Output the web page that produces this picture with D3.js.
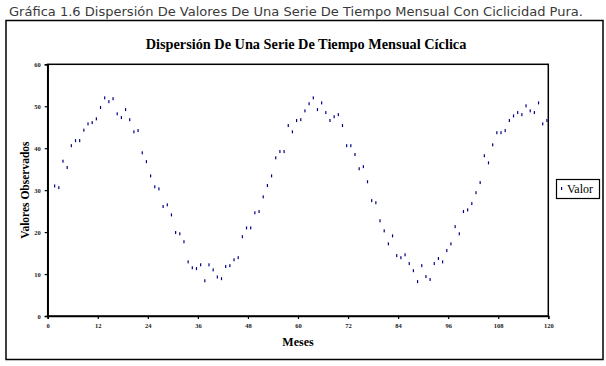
<!DOCTYPE html>
<html><head><meta charset="utf-8">
<script src="https://cdn.jsdelivr.net/npm/d3@7"></script>
<style>body{margin:0;background:#fff;} svg{display:block;}</style>
</head><body>
<svg id="c" width="606" height="366"></svg>
<script>
const caption = "Gráfica 1.6 Dispersión De Valores De Una Serie De Tiempo Mensual Con Ciclicidad Pura.";
const chartTitle = "Dispersión De Una Serie De Tiempo Mensual Cíclica";
const xTitle = "Meses";
const yTitle = "Valores Observados";
const seriesName = "Valor";
const xTicks = [0,12,24,36,48,60,72,84,96,108,120];
const yTicks = [0,10,20,30,40,50,60];
const months = [2,3,4,5,6,7,8,9,10,11,12,13,14,15,16,17,18,19,20,21,22,23,24,25,26,27,28,29,30,31,
32,33,34,35,36,37,38,39,40,41,42,43,44,45,46,47,48,49,50,51,52,53,54,55,56,57,58,59,60,61,
62,63,64,65,66,67,68,69,70,71,72,73,74,75,76,77,78,79,80,81,82,83,84,85,86,87,88,89,90,91,
92,93,94,95,96,97,98,99,100,101,102,103,104,105,106,107,108,109,110,111,112,113,114,115,116,117,118,119,120];
const values = [
31.0, 30.6, 36.9, 35.4, 40.6, 41.8, 41.8, 44.3, 45.8, 46.1,
47.0, 49.7, 52.0, 51.1, 51.8, 48.2, 47.3, 49.2, 46.8, 43.9,
44.2, 38.9, 36.8, 33.4, 30.8, 30.3, 26.1, 26.5, 24.1, 19.9,
19.6, 17.7, 12.9, 11.5, 11.3, 12.2, 8.4, 12.2, 11.0, 9.3,
8.9, 11.8, 12.0, 13.4, 13.9, 18.9, 21.0, 21.0, 24.6, 24.9,
28.4, 31.1, 33.4, 37.7, 39.2, 39.2, 45.4, 43.9, 46.6, 46.8,
48.9, 50.6, 52.0, 49.2, 50.8, 48.5, 46.6, 47.5, 48.0, 45.4,
40.6, 40.6, 38.5, 35.1, 35.6, 32.0, 27.5, 27.0, 22.7, 20.3,
17.2, 19.1, 14.4, 13.9, 14.6, 12.5, 10.8, 8.2, 12.0, 9.4,
8.7, 12.5, 13.7, 12.9, 15.6, 17.2, 21.3, 19.6, 24.9, 25.3,
26.8, 29.4, 31.8, 38.2, 36.5, 40.8, 43.7, 43.7, 44.2, 46.6,
47.7, 48.5, 48.0, 50.1, 48.9, 48.5, 50.8, 45.8, 46.6];

const svg = d3.select("#c");
const serif = "'Liberation Serif','Times New Roman',serif";
const markColor = "#000080";

// caption
svg.append("text").attr("x", 9).attr("y", 16)
  .attr("font-family", "'DejaVu Sans',sans-serif").attr("font-size", 11.5)
  .attr("fill", "#3a3a3a").attr("textLength", 574).attr("lengthAdjust", "spacingAndGlyphs")
  .text(caption);

// outer frame
svg.append("rect").attr("x", 6).attr("y", 20.5).attr("width", 597).attr("height", 339)
  .attr("fill", "none").attr("stroke", "#000").attr("stroke-width", 1.5);

// title
svg.append("text").attr("x", 306).attr("y", 49).attr("text-anchor", "middle")
  .attr("font-family", serif).attr("font-weight", "bold").attr("font-size", 14.3)
  .text(chartTitle);

const x = d3.scaleLinear().domain([0, 120]).range([47.7, 548.3]);
const y = d3.scaleLinear().domain([0, 60]).range([316, 64.3]);

// plot area border (top, right)
svg.append("rect").attr("x", x(0)).attr("y", y(60)).attr("width", x(120) - x(0)).attr("height", y(0) - y(60))
  .attr("fill", "none").attr("stroke", "#000").attr("stroke-width", 1.5);

const xAxis = svg.append("g").attr("transform", `translate(0,${y(0)})`)
  .call(d3.axisBottom(x).tickValues(xTicks).tickSize(3).tickPadding(4).tickFormat(d3.format("d")));
const yAxis = svg.append("g").attr("transform", `translate(${x(0)},0)`)
  .call(d3.axisLeft(y).tickValues(yTicks).tickSize(3).tickPadding(4).tickFormat(d3.format("d")));
[xAxis, yAxis].forEach(g => {
  g.select(".domain").attr("stroke", "#000").attr("stroke-width", 1.5);
  g.selectAll(".tick line").attr("stroke", "#000").attr("stroke-width", 1.2);
  g.selectAll(".tick text").attr("font-family", serif).attr("font-weight", "bold")
    .attr("font-size", 6.5).attr("fill", "#222");
});

// points
svg.append("g").selectAll("rect").data(months.map((m, i) => ({m, v: values[i]})))
  .join("rect")
  .attr("x", d => x(d.m) - 2).attr("y", d => y(d.v) - 1.5)
  .attr("width", 1.2).attr("height", 3).attr("fill", markColor);

// axis titles
svg.append("text").attr("x", (x(0) + x(120)) / 2).attr("y", 346).attr("text-anchor", "middle")
  .attr("font-family", serif).attr("font-weight", "bold").attr("font-size", 12).text(xTitle);
svg.append("text").attr("transform", `translate(29,${(y(0) + y(60)) / 2}) rotate(-90)`)
  .attr("text-anchor", "middle")
  .attr("font-family", serif).attr("font-weight", "bold").attr("font-size", 11.5).text(yTitle);

// legend
const lg = svg.append("g");
lg.append("rect").attr("x", 556.5).attr("y", 179.5).attr("width", 43).attr("height", 19)
  .attr("fill", "#fff").attr("stroke", "#000").attr("stroke-width", 1.2);
lg.append("rect").attr("x", 561).attr("y", 187).attr("width", 1.2).attr("height", 3).attr("fill", markColor);
lg.append("text").attr("x", 567).attr("y", 193).attr("font-family", serif).attr("font-size", 12)
  .text(seriesName);
</script>
</body></html>
